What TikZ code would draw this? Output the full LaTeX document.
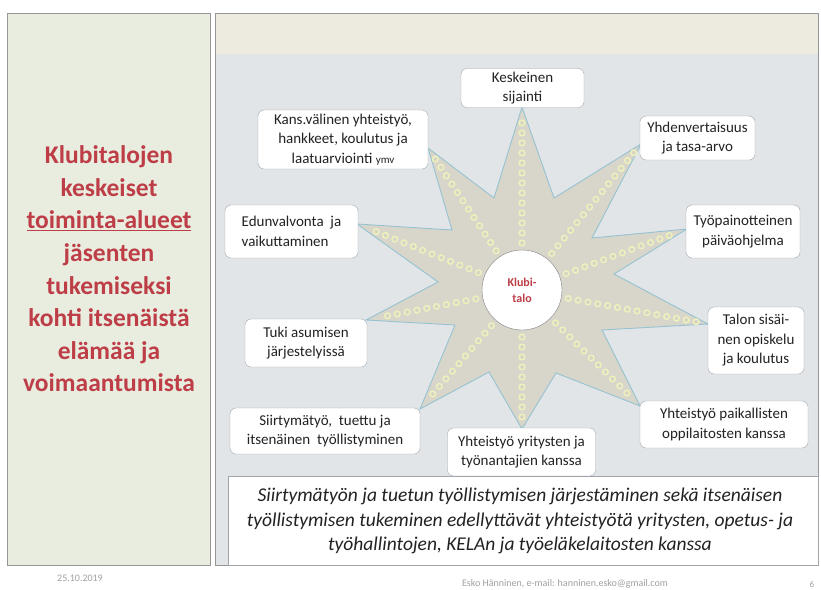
\documentclass[tikz,border=0pt]{standalone}
\usepackage{fontspec}
\setmainfont{Carlito}
\usetikzlibrary{calc}
\definecolor{leftfill}{RGB}{233,237,224}
\definecolor{topstrip}{RGB}{237,234,224}
\definecolor{panelbg}{RGB}{226,229,232}
\definecolor{panelline}{RGB}{150,150,150}
\definecolor{titlered}{RGB}{190,62,72}
\definecolor{starfill}{RGB}{216,213,202}
\definecolor{starline}{RGB}{150,195,210}
\definecolor{boxline}{RGB}{160,166,172}
\definecolor{dotring}{RGB}{238,240,190}
\definecolor{dotfill}{RGB}{214,212,196}
\definecolor{footgray}{RGB}{160,160,160}
\definecolor{txt}{RGB}{34,34,34}
\begin{document}
\begin{tikzpicture}[x=1pt,y=-1pt,
  lbl/.style={draw=boxline, fill=white, rounded corners=6pt, align=center, text=txt,
    font=\fontsize{15}{19.5}\selectfont, inner xsep=6pt, inner ysep=3pt},
  dotc/.style={circle, draw=dotring, fill=dotfill, line width=1.5pt, minimum size=5.6pt, inner sep=0pt},
  panel/.style={draw=panelline, line width=0.6pt}]
\useasboundingbox (0,0) rectangle (821,589);
\fill[white] (0,0) rectangle (821,589);
% left panel
\node[panel, fill=leftfill, minimum width=203pt, minimum height=552pt, inner sep=0pt] (lp) at (108.5,289) {};
\node[text=titlered, align=center, font=\fontsize{25.5}{32.6}\selectfont\bfseries] (title) at (109,269)
 {Klubitalojen\\keskeiset\\\underline{toiminta-alueet}\\jäsenten\\tukemiseksi\\kohti itsenäistä\\elämää ja\\voimaantumista};
% right panel
\fill[panelbg] (215,13) rectangle (818,565);
\fill[topstrip] (215,13) rectangle (818,54);
\node[panel, minimum width=603pt, minimum height=552pt, inner sep=0pt] (rp) at (516.5,289) {};
% centre
\coordinate (c) at (522,290);
\coordinate (t1) at (522,107);
\coordinate (t2) at (641,144);
\coordinate (t3) at (687,229);
\coordinate (t4) at (708,324);
\coordinate (t5) at (640,406);
\coordinate (t6) at (522,429);
\coordinate (t7) at (420,409);
\coordinate (t8) at (366,320);
\coordinate (t9) at (357,224);
\coordinate (t10) at (428,148);
\coordinate (v1) at (554,198);
\coordinate (v2) at (592,238);
\coordinate (v3) at (614,274);
\coordinate (v4) at (602,330);
\coordinate (v5) at (556,373);
\coordinate (v6) at (489,372);
\coordinate (v7) at (455,325);
\coordinate (v8) at (438,282);
\coordinate (v9) at (452,230);
\coordinate (v10) at (494,198);
\draw[fill=starfill, draw=starline, line width=0.9pt, line join=miter]
  (t1) -- (v1) -- (t2) -- (v2) -- (t3) -- (v3) -- (t4) -- (v4) -- (t5) -- (v5)
  -- (t6) -- (v6) -- (t7) -- (v7) -- (t8) -- (v8) -- (t9) -- (v9) -- (t10) -- (v10) -- cycle;
\foreach \t/\e in {t1/172,t2/178,t3/165,t4/178,t5/156,t6/128,t7/146,t8/146,t9/165,t10/158}{
  \foreach \d in {47,57,...,\e}{
    \node[dotc] at ($(c)!\d pt!(\t)$) {};
  }
}
\node[circle, draw=gray, fill=white, minimum size=80pt, inner sep=0pt, align=center,
  text=titlered, font=\fontsize{12}{16}\selectfont\bfseries] (klubi) at (c) {Klubi-\\talo};
% labels
\node[lbl, minimum width=123pt, minimum height=39pt] (b1) at (522.5,88) {Keskeinen\\sijainti};
\node[lbl, minimum width=115pt, minimum height=44pt] (b2) at (697.5,138) {Yhdenvertaisuus\\ja tasa-arvo};
\node[lbl, minimum width=114pt, minimum height=53pt] (b3) at (743,231.5) {Työpainotteinen\\päiväohjelma};
\node[lbl, minimum width=96pt, minimum height=67pt] (b4) at (756,340.5) {Talon sisäi-\\nen opiskelu\\ja koulutus};
\node[lbl, minimum width=168pt, minimum height=47pt] (b5) at (724,424.5) {Yhteistyö paikallisten\\oppilaitosten kanssa};
\node[lbl, minimum width=148pt, minimum height=48pt] (b6) at (521.5,452) {Yhteistyö yritysten ja\\työnantajien kanssa};
\node[lbl, minimum width=190pt, minimum height=46pt] (b7) at (325,431) {Siirtymätyö,\ \ tuettu ja\\itsenäinen\ \ työllistyminen};
\node[lbl, minimum width=122pt, minimum height=48pt] (b8) at (306,343) {Tuki asumisen\\järjestelyissä};
\node[lbl, minimum width=133pt, minimum height=53pt, align=left, inner xsep=11pt] (b9) at (291.5,231.5) {Edunvalvonta\ \ ja\\vaikuttaminen};
\node[lbl, minimum width=170pt, minimum height=59pt] (b10) at (343,139.5) {Kans.välinen yhteistyö,\\hankkeet, koulutus ja\\laatuarviointi {\fontsize{11}{19.5}\selectfont ymv}};
% bottom text box
\node[draw=boxline, fill=white, minimum width=590pt, minimum height=89pt, inner sep=0pt] (tb) at (523,520.5) {};
\node[align=center, text=txt, font=\fontsize{19.5}{24.5}\selectfont\itshape] (tbt) at (520,521)
 {Siirtymätyön ja tuetun työllistymisen järjestäminen sekä itsenäisen\\työllistymisen tukeminen edellyttävät yhteistyötä yritysten, opetus- ja\\työhallintojen, KELAn ja työeläkelaitosten kanssa};
% footer
\node[text=footgray, font=\fontsize{10}{12}\selectfont] (date) at (80,578) {25.10.2019};
\node[text=footgray, font=\fontsize{10}{12}\selectfont] (auth) at (565,584) {Esko Hänninen, e-mail: hanninen.esko@gmail.com};
\node[text=footgray, font=\fontsize{9}{11}\selectfont, inner sep=0pt] (pg) at (812,584) {6};
\end{tikzpicture}
\end{document}
